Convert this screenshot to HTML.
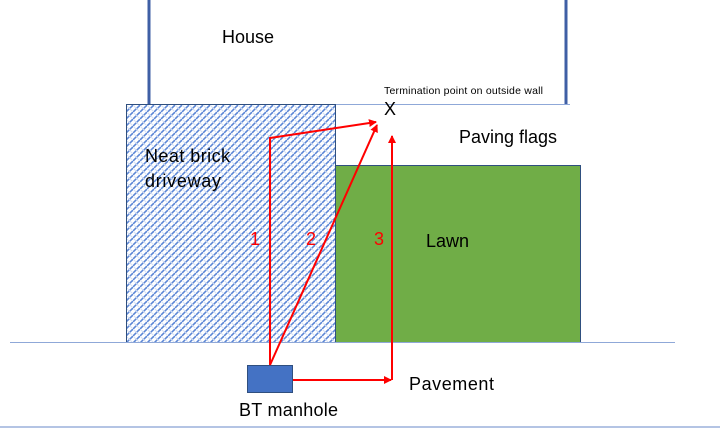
<!DOCTYPE html>
<html><head><style>body{margin:0;background:#fff}svg{display:block}</style></head><body>
<svg width="720" height="435" viewBox="0 0 720 435" xmlns="http://www.w3.org/2000/svg" font-family="Liberation Sans, sans-serif">
<defs>
<pattern id="h" width="7" height="7" patternUnits="userSpaceOnUse">
<rect width="7" height="7" fill="#fff"/>
<path d="M-1,8 L8,-1" stroke="#5b86d6" stroke-width="1.6"/>
<path d="M-1,-1 L8,8" stroke="#d4dff4" stroke-width="1"/>
</pattern>
<marker id="a" markerWidth="8" markerHeight="8" refX="7" refY="4" orient="auto" markerUnits="userSpaceOnUse"><path d="M0,0 L8,4 L0,8 z" fill="#ff0000"/></marker>
</defs>
<line x1="149" y1="0" x2="149" y2="104" stroke="#3f5fa5" stroke-width="3"/>
<line x1="566" y1="0" x2="566" y2="104" stroke="#3f5fa5" stroke-width="3"/>
<line x1="335" y1="104.5" x2="570" y2="104.5" stroke="#8fa8d8" stroke-width="1"/>
<rect x="126.5" y="104.5" width="209" height="238" fill="url(#h)" stroke="#2f4f7f" stroke-width="1"/>
<rect x="335.5" y="165.5" width="245" height="177" fill="#70ad47" stroke="#2f4f7f" stroke-width="1"/>
<line x1="10" y1="342.5" x2="675" y2="342.5" stroke="#8fa8d8" stroke-width="1"/>
<line x1="0" y1="427" x2="720" y2="427" stroke="#b4c4e4" stroke-width="2"/>
<rect x="247.5" y="365.5" width="45" height="27" fill="#4472c4" stroke="#2f4f7f" stroke-width="1"/>
<g stroke="#ff0000" stroke-width="2" fill="none">
<polyline points="270,365 270,138 376,122" marker-end="url(#a)"/>
<line x1="270" y1="365" x2="377" y2="125" marker-end="url(#a)"/>
<line x1="293" y1="380" x2="391" y2="380" marker-end="url(#a)"/>
<line x1="392" y1="380" x2="392" y2="136" marker-end="url(#a)"/>
</g>
<g fill="#000">
<text x="222" y="43" font-size="18">House</text>
<text x="384" y="94" font-size="10.5" textLength="159">Termination point on outside wall</text>
<text x="384" y="115" font-size="18">X</text>
<text x="459" y="143" font-size="18" textLength="98">Paving flags</text>
<text x="145" y="162" font-size="18" textLength="85">Neat brick</text>
<text x="145" y="187" font-size="18" textLength="76">driveway</text>
<text x="426" y="247" font-size="18">Lawn</text>
<text x="409" y="390" font-size="18" textLength="85">Pavement</text>
<text x="239" y="416" font-size="18" textLength="99">BT manhole</text>
</g>
<g fill="#ff0000" font-size="18">
<text x="250" y="245">1</text>
<text x="306" y="245">2</text>
<text x="374" y="245">3</text>
</g>
</svg>
</body></html>
